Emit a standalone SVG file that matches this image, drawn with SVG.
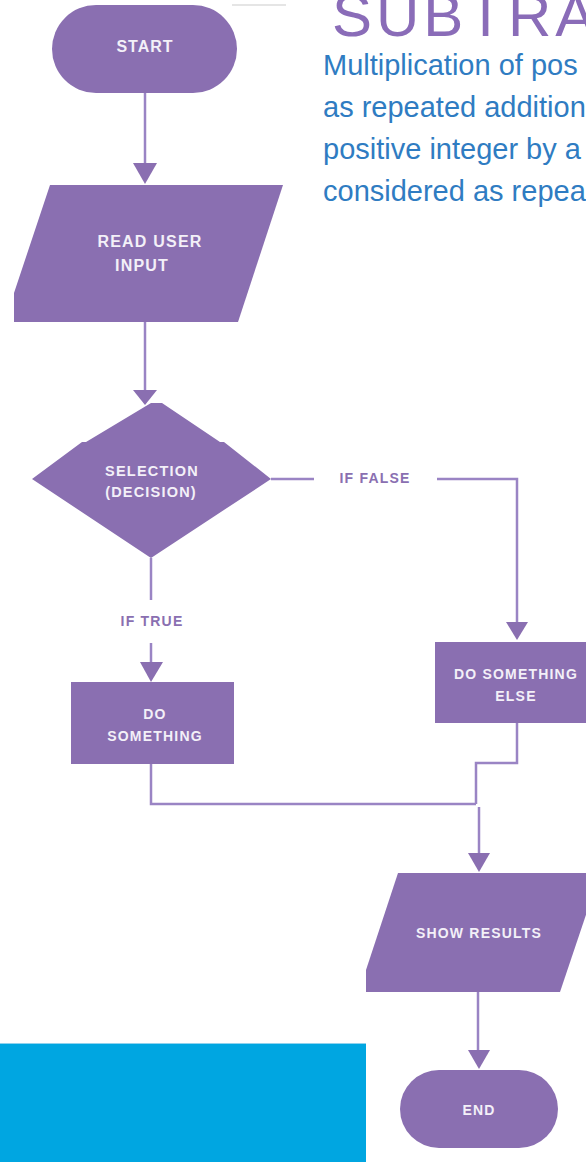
<svg xmlns="http://www.w3.org/2000/svg" width="586" height="1162" viewBox="0 0 586 1162">
<defs>
<style>
.node{fill:#8a6fb1}
.lbl{font-family:"Liberation Sans",Arial,sans-serif;font-weight:bold;fill:#f3f0f8;text-anchor:middle;font-size:14px;letter-spacing:1.2px}
.edge{fill:none;stroke:#9a84c4;stroke-width:2.5}
.elbl{font-family:"Liberation Sans",Arial,sans-serif;font-weight:bold;fill:#8a6fb1;text-anchor:middle;font-size:14px;letter-spacing:1.2px}
.head{fill:#8a6fb1}
.body{font-family:"Liberation Sans",Arial,sans-serif;font-size:29px;fill:#2f7cc2}
</style>
</defs>
<rect width="586" height="1162" fill="#ffffff"/>
<line x1="232" y1="5" x2="286" y2="5" stroke="#dcdcdc" stroke-width="1.5"/>
<g id="heading">
<text x="332" y="36" font-family="'Liberation Sans',Arial,sans-serif" font-size="60" letter-spacing="4" fill="#8a6cb8">SUBTRA</text>
<text class="body" x="323" y="75">Multiplication of pos</text>
<text class="body" x="323" y="117">as repeated addition</text>
<text class="body" x="323" y="159">positive integer by a</text>
<text class="body" x="323" y="201">considered as repea</text>
</g>
<rect x="0" y="1043" width="366" height="119" fill="#00a6e1"/>
<line x1="0" y1="1043.5" x2="366" y2="1043.5" stroke="#8fd2ee" stroke-width="1"/>
<g id="connectors">
<path class="edge" d="M145 93 V165"/>
<polygon class="head" points="133,163 157,163 145,184"/>
<path class="edge" d="M145 322 V392"/>
<polygon class="head" points="133,390 157,390 145,405"/>
<path class="edge" d="M271 479 H314"/>
<text class="elbl" x="375" y="483">IF FALSE</text>
<path class="edge" d="M437 479 H517 V624"/>
<polygon class="head" points="506,622 528,622 517,640"/>
<path class="edge" d="M151 558 V600"/>
<text class="elbl" x="152" y="626">IF TRUE</text>
<path class="edge" d="M151 643 V664"/>
<polygon class="head" points="140,662 163,662 151,682"/>
<path class="edge" d="M151 764 V804 H476"/>
<path class="edge" d="M517 723 V763 H476 V804"/>
<path class="edge" d="M479 807 V855"/>
<polygon class="head" points="468,853 490,853 479,872"/>
<path class="edge" d="M478 992 V1052"/>
<polygon class="head" points="468,1050 490,1050 479,1069"/>
</g>
<g id="start">
<rect class="node" x="52" y="5" width="185" height="88" rx="44" ry="44"/>
<text class="lbl" x="145" y="52" style="font-size:16px;letter-spacing:1px">START</text>
</g>
<g id="read-input">
<polygon class="node" points="50,185 283,185 238,322 14,322 14,293"/>
<text class="lbl" x="150" y="247" style="font-size:16px">READ USER</text>
<text class="lbl" x="142" y="271" style="font-size:16px">INPUT</text>
</g>
<g id="decision">
<polygon class="node" points="32,479 82,442 86,442 151,403 162,403 220,442 224,442 271,479 151,558"/>
<text class="lbl" x="152" y="476" style="font-size:14.5px">SELECTION</text>
<text class="lbl" x="151" y="497" style="font-size:14.5px">(DECISION)</text>
</g>
<g id="do-something">
<rect class="node" x="71" y="682" width="163" height="82"/>
<text class="lbl" x="155" y="719">DO</text>
<text class="lbl" x="155" y="741">SOMETHING</text>
</g>
<g id="do-something-else">
<rect class="node" x="435" y="642" width="155" height="81"/>
<text class="lbl" x="516" y="679">DO SOMETHING</text>
<text class="lbl" x="516" y="701">ELSE</text>
</g>
<g id="show-results">
<polygon class="node" points="398,873 600,873 560,992 366,992 366,970"/>
<text class="lbl" x="479" y="938">SHOW RESULTS</text>
</g>
<g id="end">
<rect class="node" x="400" y="1070" width="158" height="78" rx="39" ry="39"/>
<text class="lbl" x="479" y="1115">END</text>
</g>
</svg>
